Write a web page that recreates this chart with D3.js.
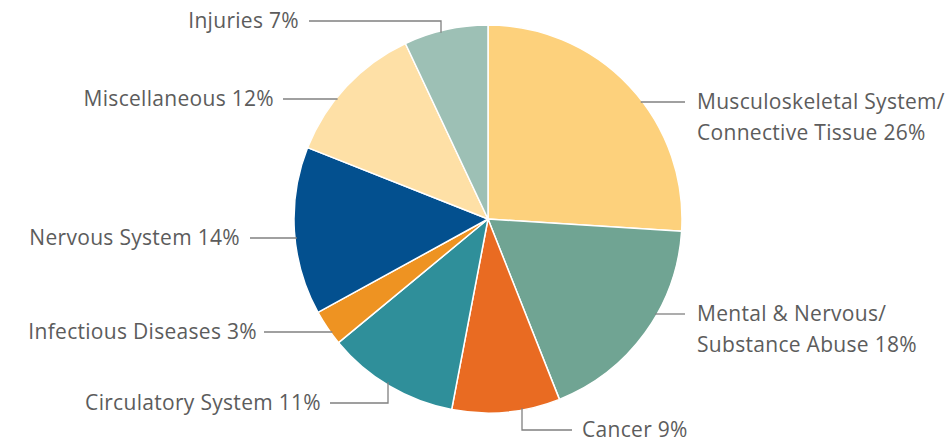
<!DOCTYPE html>
<html><head><meta charset="utf-8">
<script src="https://cdn.jsdelivr.net/npm/d3@7"></script>
<style>html,body{margin:0;padding:0;background:#fff;}svg{display:block;}</style>
</head><body>
<svg id="chart" width="948" height="442"></svg>
<script>
// ---- data ----
const categories = ["Musculoskeletal System/ Connective Tissue","Mental & Nervous/ Substance Abuse","Cancer","Circulatory System","Infectious Diseases","Nervous System","Miscellaneous","Injuries"];
const values = [26, 18, 9, 11, 3, 14, 12, 7];
const labelLines = [
  ["Musculoskeletal System/","Connective Tissue 26%"],
  ["Mental & Nervous/","Substance Abuse 18%"],
  ["Cancer 9%"],
  ["Circulatory System 11%"],
  ["Infectious Diseases 3%"],
  ["Nervous System 14%"],
  ["Miscellaneous 12%"],
  ["Injuries 7%"]
];
const colors = ["#fdd17c","#70a493","#e96b22","#2f8f9a","#ee9322","#03508f","#fee0a6","#9dc0b5"];

// ---- layout (positions of label leaders) ----
const cx = 488, cy = 219, R = 194;
const layout = [
  {type:"h", side:"right", y:102, lineEnd:685, textX:697},
  {type:"h", side:"right", y:314, lineEnd:685, textX:697},
  {type:"down", x:522, y:430, lineEnd:572, textX:582},
  {type:"elbow", side:"left", y:403, x:388, lineEnd:330, textX:321},
  {type:"h", side:"left", y:332, lineEnd:264, textX:257},
  {type:"h", side:"left", y:238, lineEnd:250, textX:240},
  {type:"h", side:"left", y:99, lineEnd:283, textX:274},
  {type:"elbow", side:"left", y:21, x:441, lineEnd:309, textX:299}
];

const svg = d3.select("#chart");
const pie = d3.pie().sort(null).value(d => d)(values);
const arc = d3.arc().innerRadius(0).outerRadius(R);

const g = svg.append("g").attr("transform", `translate(${cx},${cy})`);
g.selectAll("path").data(pie).join("path")
  .attr("d", arc)
  .attr("fill", (d,i) => colors[i])
  .attr("stroke", "#fff")
  .attr("stroke-width", 1.5)
  .attr("stroke-linejoin", "round");

const lineColor = "#808080", textColor = "#5c5c5c";
const font = "'Open Sans', sans-serif", fs = 21;
const lines = svg.append("g").attr("fill","none").attr("stroke", lineColor).attr("stroke-width", 1.3);
const texts = svg.append("g").attr("font-family", font).attr("font-size", fs)
  .attr("letter-spacing", "0.3px").attr("fill", textColor);

function edgeXAtY(y, side){ const dy = y - cy; const dx = Math.sqrt(Math.max(0, R*R - dy*dy)); return side === "right" ? cx + dx : cx - dx; }
function edgeYAtX(x, dir){ const dx = x - cx; const dy = Math.sqrt(Math.max(0, R*R - dx*dx)); return dir === "down" ? cy + dy : cy - dy; }

layout.forEach((L, i) => {
  let pts;
  if (L.type === "h") {
    const ex = edgeXAtY(L.y, L.side) + (L.side === "right" ? -2 : 2);
    pts = [[ex, L.y], [L.lineEnd, L.y]];
  } else if (L.type === "elbow") {
    const below = L.y > cy;
    const ey = edgeYAtX(L.x, below ? "down" : "up") + (below ? -3 : 2);
    pts = [[L.lineEnd, L.y], [L.x, L.y], [L.x, ey]];
  } else {
    const ey = edgeYAtX(L.x, "down") - 2;
    pts = [[L.x, ey], [L.x, L.y], [L.lineEnd, L.y]];
  }
  lines.append("path").attr("d", d3.line()(pts));

  const anchor = (L.type === "down" || L.side === "right") ? "start" : "end";
  const ls = labelLines[i];
  const lh = 31;
  const t = texts.append("text").attr("text-anchor", anchor);
  ls.forEach((s, k) => {
    t.append("tspan").attr("x", L.textX).attr("y", L.y + k*lh).attr("dy", "0.35em").text(s);
  });
});
</script>
</body></html>
